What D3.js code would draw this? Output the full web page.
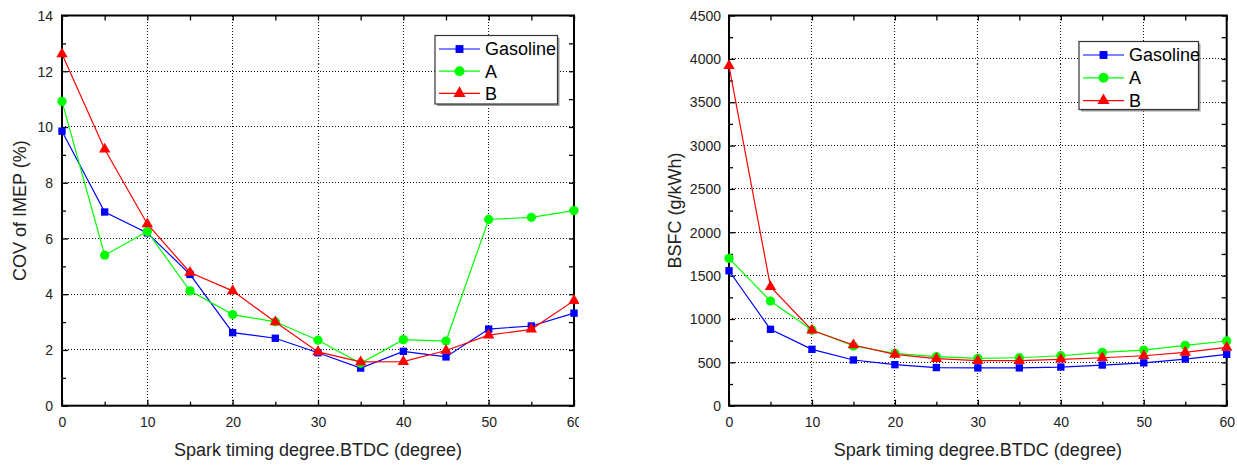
<!DOCTYPE html>
<html>
<head>
    <meta charset="UTF-8">
    <title>COV of IMEP and BSFC vs spark timing</title>
    <style>
        body {
            margin: 0;
            padding: 0;
            background-color: white;
        }
        svg {
            display: block;
            font-family: Arial, "Liberation Sans", sans-serif;
        }
        .grid line {
            stroke: #111;
            stroke-width: 1px;
            stroke-dasharray: 1,2;
            shape-rendering: crispEdges;
        }
        .axis path {
            display: none;
        }
        .axis line {
            stroke: black;
            stroke-width: 1.3px;
        }
        .axis text {
            font-size: 14px;
            fill: #222;
        }
        .frame {
            fill: none;
            stroke: black;
            stroke-width: 2px;
        }
        .title {
            font-size: 18px;
            fill: #222;
            text-anchor: middle;
        }
        .legend text {
            font-size: 18px;
            fill: black;
        }
    </style>
    <script src="https://d3js.org/d3.v7.min.js"></script>
</head>
<body>
    <div id="chart"></div>

    <script>
        // spark timing (degree BTDC)
        var timing = [0, 5, 10, 15, 20, 25, 30, 35, 40, 45, 50, 55, 60];
        var seriesNames = ["Gasoline", "A", "B"];

        // COV of IMEP (%)
        var covGasoline = [9.85, 6.95, 6.2, 4.71, 2.62, 2.42, 1.9, 1.35, 1.95, 1.75, 2.75, 2.86, 3.32];
        var covA = [10.92, 5.4, 6.25, 4.12, 3.27, 3.01, 2.35, 1.52, 2.37, 2.32, 6.68, 6.76, 7.0];
        var covB = [12.62, 9.2, 6.52, 4.78, 4.12, 3.0, 1.93, 1.57, 1.58, 1.98, 2.53, 2.74, 3.77];

        // BSFC (g/kWh)
        var bsfcGasoline = [1556, 881, 650, 527, 473, 440, 436, 436, 446, 469, 494, 538, 592];
        var bsfcA = [1699, 1207, 873, 688, 604, 565, 546, 553, 576, 615, 642, 696, 746];
        var bsfcB = [3920, 1372, 870, 700, 592, 542, 519, 519, 535, 553, 576, 615, 673];

        var xTicks = [0, 10, 20, 30, 40, 50, 60];
        var xMinor = [5, 15, 25, 35, 45, 55];
        var covTicks = [0, 2, 4, 6, 8, 10, 12, 14];
        var covMinor = [1, 3, 5, 7, 9, 11, 13];
        var bsfcTicks = [0, 500, 1000, 1500, 2000, 2500, 3000, 3500, 4000, 4500];
        var bsfcMinor = [250, 750, 1250, 1750, 2250, 2750, 3250, 3750, 4250];

        var colors = ["#0000ff", "#00ff00", "#ff0000"];
        var symbols = [d3.symbolSquare, d3.symbolCircle, d3.symbolTriangle];
        var symbolSizes = [54, 68, 56];

        var svg = d3.select("#chart").append("svg")
            .attr("width", 1237)
            .attr("height", 465);

        svg.append("defs").append("clipPath")
            .attr("id", "leftClip")
            .append("rect")
            .attr("x", 0).attr("y", 0)
            .attr("width", 579).attr("height", 465);

        function drawPanel(opt) {
            var g = svg.append("g");
            if (opt.clip) g.attr("clip-path", "url(#" + opt.clip + ")");

            var x = d3.scaleLinear().domain([0, 60]).range([opt.left, opt.right]);
            var y = d3.scaleLinear().domain(opt.yDomain).range([opt.bottom, opt.top]);

            // dotted grid
            var grid = g.append("g").attr("class", "grid");
            grid.selectAll(".gx")
                .data(xTicks.slice(1, -1))
                .enter().append("line")
                .attr("x1", function(d) { return x(d); })
                .attr("x2", function(d) { return x(d); })
                .attr("y1", opt.top).attr("y2", opt.bottom);
            grid.selectAll(".gy")
                .data(opt.yTicks.slice(1, -1))
                .enter().append("line")
                .attr("y1", function(d) { return y(d); })
                .attr("y2", function(d) { return y(d); })
                .attr("x1", opt.left).attr("x2", opt.right);

            // axes with inward ticks
            g.append("g").attr("class", "axis")
                .attr("transform", "translate(0," + opt.bottom + ")")
                .call(d3.axisBottom(x).tickValues(xTicks).tickSize(-6).tickPadding(11).tickFormat(d3.format("d")));
            g.append("g").attr("class", "axis")
                .attr("transform", "translate(0," + opt.bottom + ")")
                .call(d3.axisBottom(x).tickValues(xMinor).tickSize(-4).tickFormat(""));
            g.append("g").attr("class", "axis")
                .attr("transform", "translate(0," + opt.top + ")")
                .call(d3.axisTop(x).tickValues(xTicks.concat(xMinor)).tickSize(-5).tickFormat(""));

            g.append("g").attr("class", "axis")
                .attr("transform", "translate(" + opt.left + ",0)")
                .call(d3.axisLeft(y).tickValues(opt.yTicks).tickSize(-6).tickPadding(opt.yPad).tickFormat(d3.format("d")));
            g.append("g").attr("class", "axis")
                .attr("transform", "translate(" + opt.left + ",0)")
                .call(d3.axisLeft(y).tickValues(opt.yMinor).tickSize(-4).tickFormat(""));
            g.append("g").attr("class", "axis")
                .attr("transform", "translate(" + opt.right + ",0)")
                .call(d3.axisRight(y).tickValues(opt.yTicks.concat(opt.yMinor)).tickSize(-5).tickFormat(""));

            g.selectAll(".axis text").attr("dy", function() {
                return d3.select(this.parentNode.parentNode).attr("transform").indexOf("translate(0,") === 0 ? "0.71em" : "0.34em";
            });

            g.append("rect").attr("class", "frame")
                .attr("x", opt.left).attr("y", opt.top)
                .attr("width", opt.right - opt.left)
                .attr("height", opt.bottom - opt.top);

            // series
            var line = d3.line()
                .x(function(d, i) { return x(timing[i]); })
                .y(function(d) { return y(d); });

            opt.series.forEach(function(vals, s) {
                g.append("path")
                    .datum(vals)
                    .attr("fill", "none")
                    .attr("stroke", colors[s])
                    .attr("stroke-width", 1.2)
                    .attr("d", line);
                g.selectAll(".m" + s)
                    .data(vals)
                    .enter().append("path")
                    .attr("class", "m" + s)
                    .attr("fill", colors[s])
                    .attr("d", d3.symbol().type(symbols[s]).size(symbolSizes[s]))
                    .attr("transform", function(d, i) {
                        return "translate(" + x(timing[i]) + "," + y(d) + ")";
                    });
            });

            // axis titles
            g.append("text").attr("class", "title")
                .attr("x", (opt.left + opt.right) / 2)
                .attr("y", 456)
                .text("Spark timing degree.BTDC (degree)");
            g.append("text").attr("class", "title")
                .attr("transform", "translate(" + opt.yTitleX + "," + ((opt.top + opt.bottom) / 2) + ") rotate(-90)")
                .text(opt.yTitle);

            // legend
            var L = opt.legend;
            var lg = g.append("g").attr("class", "legend");
            lg.append("rect")
                .attr("x", L.x + 2).attr("y", L.y + 2)
                .attr("width", L.w).attr("height", L.h)
                .attr("fill", "#999");
            lg.append("rect")
                .attr("x", L.x).attr("y", L.y)
                .attr("width", L.w).attr("height", L.h)
                .attr("fill", "white")
                .attr("stroke", "#333")
                .attr("stroke-width", 1.2);
            seriesNames.forEach(function(name, s) {
                var ly = L.y + 13.5 + s * L.step;
                lg.append("line")
                    .attr("x1", L.x + 4).attr("x2", L.x + 45)
                    .attr("y1", ly).attr("y2", ly)
                    .attr("stroke", colors[s])
                    .attr("stroke-width", 1.2);
                lg.append("path")
                    .attr("fill", colors[s])
                    .attr("d", d3.symbol().type(symbols[s]).size(symbolSizes[s] * 1.15))
                    .attr("transform", "translate(" + (L.x + 24.5) + "," + ly + ")");
                lg.append("text")
                    .attr("x", L.x + 50)
                    .attr("y", ly)
                    .attr("dy", "0.36em")
                    .text(name);
            });
        }

        drawPanel({
            left: 62, right: 574, top: 15.5, bottom: 405.7,
            yDomain: [0, 14], yTicks: covTicks, yMinor: covMinor, yPad: 9,
            series: [covGasoline, covA, covB],
            yTitle: "COV of IMEP (%)", yTitleX: 26,
            legend: {x: 435, y: 35.5, w: 122.5, h: 68.5, step: 22.2},
            clip: "leftClip"
        });

        drawPanel({
            left: 729, right: 1226.7, top: 15.5, bottom: 405.7,
            yDomain: [0, 4500], yTicks: bsfcTicks, yMinor: bsfcMinor, yPad: 8,
            series: [bsfcGasoline, bsfcA, bsfcB],
            yTitle: "BSFC (g/kWh)", yTitleX: 681,
            legend: {x: 1079, y: 41.5, w: 119.5, h: 68, step: 22.8}
        });
    </script>
</body>
</html>
